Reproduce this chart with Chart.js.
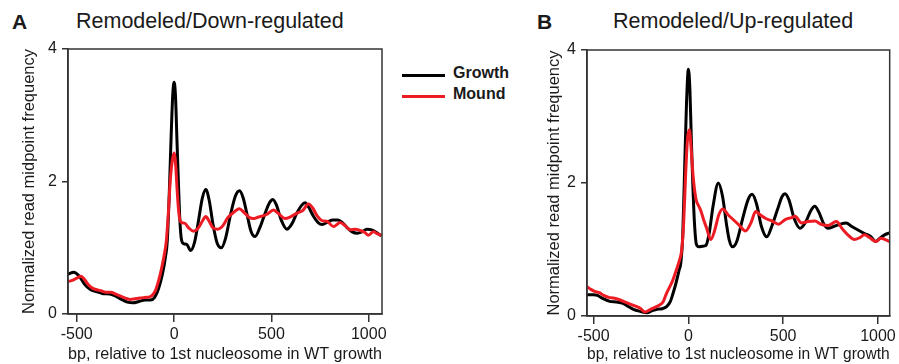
<!DOCTYPE html>
<html>
<head>
<meta charset="utf-8">
<script src="https://cdn.jsdelivr.net/npm/chart.js@4.4.1/dist/chart.umd.min.js"></script>
<style>
    html, body { margin: 0; padding: 0; background: #fff; }
    body { width: 899px; height: 364px; position: relative; overflow: hidden;
           font-family: "Liberation Sans", Arial, sans-serif; color: #1a1a1a; }
    .box { position: absolute; top: 0; height: 364px; }
    #boxA { left: 0; width: 400px; }
    #boxB { left: 519px; width: 380px; }
    .letter { position: absolute; top: 10.5px; font-size: 21px; font-weight: bold; line-height: 1; }
    .title  { position: absolute; top: 10.5px; font-size: 21.5px; line-height: 1; white-space: nowrap; }
    .leg-line { position: absolute; left: 402px; width: 43px; height: 3px; }
    .leg-text { position: absolute; left: 453px; font-size: 16px; font-weight: bold; line-height: 1; }
</style>
</head>
<body>
<div class="letter" style="left:12px">A</div>
<div class="title" style="left:76px">Remodeled/Down-regulated</div>
<div class="letter" style="left:537px">B</div>
<div class="title" style="left:613px">Remodeled/Up-regulated</div>

<div class="leg-line" style="top:74px; background:#000"></div>
<div class="leg-line" style="top:95px; background:#ed1c24"></div>
<div class="leg-text" style="top:65px">Growth</div>
<div class="leg-text" style="top:85.5px">Mound</div>

<div class="box" id="boxA"><canvas id="chartA" width="400" height="364"></canvas></div>
<div class="box" id="boxB"><canvas id="chartB" width="380" height="364"></canvas></div>

<script>
// ===== DATOS =====
const xTicks = [-500, 0, 500, 1000];
const yTicks = [0, 2, 4];
const xTitle = 'bp, relative to 1st nucleosome in WT growth';
const yTitle = 'Normalized read midpoint frequency';

// Panel A - Remodeled/Down-regulated
const bpGrowthA = [-545, -515, -490, -460, -430, -400, -370, -330, -300, -270, -240, -210, -180, -150, -120, -100, -80, -60, -45, -35, -25, -15, -7, 0, 7, 15, 22, 30, 38, 50, 65, 85, 105, 125, 145, 163, 180, 200, 220, 243, 265, 290, 315, 336, 355, 375, 395, 416, 440, 465, 490, 507, 525, 550, 579, 605, 630, 655, 673, 690, 715, 740, 760, 790, 815, 840, 865, 890, 915, 940, 965, 990, 1015, 1040, 1065];
const growthA   = [0.60, 0.63, 0.58, 0.45, 0.37, 0.34, 0.31, 0.30, 0.27, 0.22, 0.18, 0.17, 0.19, 0.21, 0.21, 0.25, 0.38, 0.60, 0.85, 1.10, 1.80, 2.70, 3.30, 3.50, 3.30, 2.60, 2.00, 1.40, 1.12, 1.06, 1.05, 0.96, 1.08, 1.40, 1.75, 1.88, 1.72, 1.35, 1.08, 1.00, 1.15, 1.50, 1.78, 1.86, 1.75, 1.50, 1.25, 1.17, 1.30, 1.50, 1.68, 1.73, 1.65, 1.42, 1.28, 1.36, 1.52, 1.64, 1.68, 1.62, 1.48, 1.38, 1.35, 1.39, 1.42, 1.42, 1.38, 1.30, 1.24, 1.22, 1.24, 1.28, 1.27, 1.23, 1.18];
const bpMoundA  = [-545, -520, -495, -478, -460, -440, -420, -400, -375, -350, -325, -300, -275, -250, -225, -200, -175, -150, -125, -110, -95, -80, -65, -50, -40, -30, -20, -10, 0, 8, 15, 22, 30, 40, 55, 75, 100, 125, 145, 163, 180, 200, 225, 250, 275, 300, 335, 360, 385, 407, 430, 455, 480, 510, 535, 570, 600, 630, 660, 690, 712, 735, 760, 785, 819, 853, 880, 904, 930, 956, 980, 998, 1024, 1045, 1065];
const moundA    = [0.49, 0.51, 0.55, 0.57, 0.52, 0.44, 0.39, 0.37, 0.35, 0.33, 0.33, 0.30, 0.27, 0.24, 0.22, 0.23, 0.24, 0.25, 0.26, 0.29, 0.36, 0.50, 0.68, 0.90, 1.10, 1.50, 2.00, 2.30, 2.43, 2.25, 1.90, 1.60, 1.42, 1.38, 1.37, 1.30, 1.25, 1.30, 1.40, 1.47, 1.40, 1.30, 1.28, 1.33, 1.45, 1.52, 1.59, 1.53, 1.46, 1.44, 1.46, 1.48, 1.51, 1.57, 1.52, 1.44, 1.47, 1.52, 1.56, 1.66, 1.60, 1.48, 1.41, 1.40, 1.32, 1.38, 1.33, 1.27, 1.28, 1.26, 1.23, 1.19, 1.24, 1.21, 1.19];

// Panel B - Remodeled/Up-regulated
const bpGrowthB = [-535, -500, -480, -450, -415, -380, -345, -315, -290, -255, -220, -190, -165, -140, -115, -95, -80, -65, -50, -40, -30, -20, -10, 0, 8, 15, 23, 32, 42, 55, 75, 92, 110, 130, 158, 180, 200, 215, 233, 255, 285, 315, 336, 360, 385, 414, 440, 470, 495, 510, 530, 560, 589, 620, 645, 667, 690, 715, 737, 770, 800, 833, 860, 890, 929, 960, 989, 1010, 1035, 1060];
const growthB   = [0.32, 0.32, 0.31, 0.26, 0.22, 0.21, 0.19, 0.14, 0.10, 0.07, 0.05, 0.08, 0.10, 0.11, 0.14, 0.22, 0.35, 0.50, 0.68, 0.80, 1.20, 2.20, 3.20, 3.71, 3.40, 2.70, 2.00, 1.40, 1.08, 1.04, 1.05, 1.06, 1.25, 1.65, 2.00, 1.80, 1.40, 1.15, 1.04, 1.12, 1.45, 1.75, 1.83, 1.68, 1.35, 1.19, 1.35, 1.60, 1.80, 1.84, 1.75, 1.45, 1.32, 1.42, 1.58, 1.65, 1.55, 1.38, 1.32, 1.35, 1.38, 1.40, 1.35, 1.30, 1.24, 1.20, 1.12, 1.17, 1.22, 1.25];
const bpMoundB  = [-535, -515, -495, -470, -447, -420, -395, -360, -325, -290, -256, -230, -200, -169, -150, -134, -117, -100, -82, -65, -47, -35, -25, -15, -5, 5, 15, 25, 40, 55, 66, 80, 95, 118, 140, 160, 182, 210, 240, 270, 301, 330, 355, 380, 406, 440, 475, 510, 545, 563, 597, 630, 667, 700, 737, 780, 815, 841, 876, 905, 928, 955, 989, 1016, 1060];
const moundB    = [0.44, 0.40, 0.37, 0.35, 0.31, 0.28, 0.27, 0.24, 0.20, 0.16, 0.12, 0.06, 0.10, 0.14, 0.17, 0.21, 0.33, 0.43, 0.54, 0.68, 0.84, 1.00, 1.40, 2.10, 2.65, 2.80, 2.50, 2.10, 1.76, 1.65, 1.58, 1.45, 1.33, 1.15, 1.30, 1.52, 1.61, 1.52, 1.44, 1.36, 1.28, 1.40, 1.57, 1.52, 1.47, 1.43, 1.38, 1.45, 1.48, 1.50, 1.40, 1.42, 1.43, 1.38, 1.36, 1.42, 1.30, 1.22, 1.15, 1.18, 1.22, 1.18, 1.12, 1.17, 1.12];

// ===== ESTILO =====
const INK = '#1a1a1a';
const FRAME = '#333';
const RED = '#ed1c24';
Chart.defaults.font.family = '"Liberation Sans", Arial, sans-serif';
Chart.defaults.color = INK;

// marco completo alrededor del área de datos
const framePlugin = {
    id: 'frame',
    afterDatasetsDraw(chart) {
        const { ctx, chartArea: a } = chart;
        ctx.save();
        ctx.strokeStyle = FRAME;
        ctx.lineWidth = 1.5;
        ctx.strokeRect(a.left, a.top, a.right - a.left, a.bottom - a.top);
        ctx.restore();
    }
};

function toPoints(xs, ys) {
    return xs.map((x, i) => ({ x, y: ys[i] }));
}

function makePanel(id, o) {
    return new Chart(document.getElementById(id), {
        type: 'line',
        data: {
            datasets: [
                { label: 'Mound', data: toPoints(o.bpMound, o.mound), borderColor: RED, order: 0 },
                { label: 'Growth', data: toPoints(o.bpGrowth, o.growth), borderColor: '#000', order: 1 },
            ]
        },
        options: {
            responsive: false,
            animation: false,
            layout: { padding: { top: o.top, right: o.right, left: 0, bottom: 0 } },
            elements: {
                line: { borderWidth: 3, cubicInterpolationMode: 'monotone' },
                point: { radius: 0 }
            },
            plugins: { legend: { display: false }, tooltip: { enabled: false } },
            scales: {
                x: {
                    type: 'linear', min: o.xMin, max: o.xMax,
                    afterBuildTicks: s => { s.ticks = xTicks.map(v => ({ value: v })); },
                    afterFit: s => { s.height = o.xHeight; },
                    grid: { drawOnChartArea: false, tickLength: 8, color: FRAME, lineWidth: 1.5 },
                    border: { color: FRAME, width: 1.5 },
                    ticks: { font: { size: 16 }, color: INK, padding: 3, maxRotation: 0, autoSkip: false,
                             callback: v => String(v) },
                    title: { display: true, text: xTitle, font: { size: 16.5 }, color: INK, padding: { top: 2, bottom: 0 } }
                },
                y: {
                    min: 0, max: 4,
                    afterBuildTicks: s => { s.ticks = yTicks.map(v => ({ value: v })); },
                    afterFit: s => { s.width = 68; },
                    grid: { drawOnChartArea: false, tickLength: 6, color: FRAME, lineWidth: 1.5 },
                    border: { color: FRAME, width: 1.5 },
                    ticks: { font: { size: 16 }, color: INK, padding: 5, callback: v => String(v) },
                    title: { display: true, text: yTitle, font: { size: 16.5 }, color: INK, padding: { top: o.yTitlePad, bottom: 0 } }
                }
            }
        },
        plugins: [framePlugin]
    });
}

makePanel('chartA', {
    bpGrowth: bpGrowthA, growth: growthA, bpMound: bpMoundA, mound: moundA,
    xMin: -545, xMax: 1068, top: 49, right: 18, xHeight: 50, yTitlePad: 20
});
makePanel('chartB', {
    bpGrowth: bpGrowthB, growth: growthB, bpMound: bpMoundB, mound: moundB,
    xMin: -535, xMax: 1062, top: 50, right: 7, xHeight: 48, yTitlePad: 26
});
</script>
</body>
</html>
